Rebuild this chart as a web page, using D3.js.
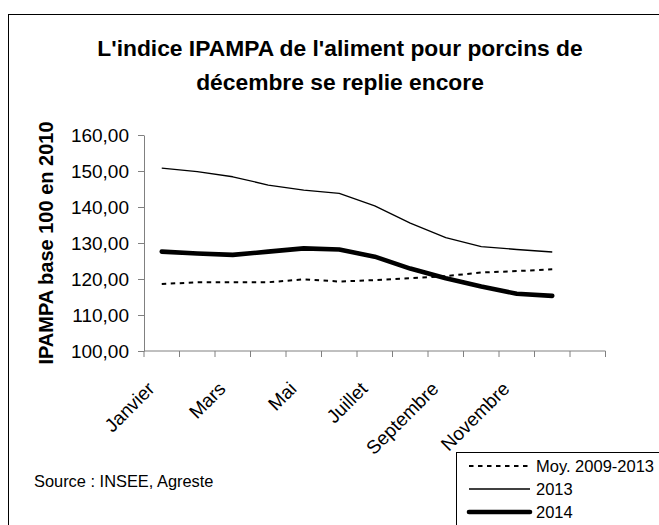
<!DOCTYPE html>
<html>
<head>
<meta charset="utf-8">
<script src="https://cdn.jsdelivr.net/npm/d3@7"></script>
<style>
  html, body { margin: 0; padding: 0; background: #fff; }
  svg { display: block; font-family: "Liberation Sans", Arial, sans-serif; }
</style>
</head>
<body>
<svg id="chart" width="659" height="525"></svg>
<script>
// ---- Data ----
const months = ["Janvier", "Février", "Mars", "Avril", "Mai", "Juin", "Juillet", "Août", "Septembre", "Octobre", "Novembre", "Décembre"];
const axisCategories = months.concat([" "]); // the axis carries one blank category at the end
const seriesNames = ["Moy. 2009-2013", "2013", "2014"];
const moy2009_2013 = [118.6, 119.1, 119.1, 119.1, 119.9, 119.3, 119.7, 120.2, 120.8, 121.8, 122.2, 122.7];
const values2013   = [150.8, 149.8, 148.4, 146.1, 144.7, 143.8, 140.3, 135.5, 131.5, 129.0, 128.2, 127.5];
const values2014   = [127.6, 127.1, 126.7, 127.6, 128.5, 128.2, 126.2, 122.9, 120.2, 117.9, 115.9, 115.3];
const yTicks = [100, 110, 120, 130, 140, 150, 160];
const titleLines = ["L'indice IPAMPA de l'aliment pour porcins de", "décembre se replie encore"];
const yTitle = "IPAMPA base 100 en 2010";
const sourceText = "Source : INSEE, Agreste";

const series = [
  { name: seriesNames[0], values: moy2009_2013, width: 2, dash: "4.5,4.5", cap: "butt" },
  { name: seriesNames[1], values: values2013, width: 1.3, dash: null, cap: "butt" },
  { name: seriesNames[2], values: values2014, width: 4.6, dash: null, cap: "round" }
];

const svg = d3.select("#chart");
const locale = d3.formatLocale({ decimal: ",", thousands: " ", grouping: [3], currency: ["", " €"] });
const fmt = locale.format(".2f");

// outer frame (runs off the right and bottom edges)
svg.append("rect").attr("x", 8.5).attr("y", 14.5).attr("width", 700).attr("height", 600)
  .attr("fill", "#fff").attr("stroke", "#000").attr("stroke-width", 1);

// title
svg.append("g").selectAll("text").data(titleLines).join("text")
  .attr("x", 340).attr("y", (d, i) => 56 + i * 34)
  .attr("text-anchor", "middle").attr("font-weight", "bold").attr("font-size", 22.8)
  .attr("fill", "#000").text(d => d);

// scales
const x = d3.scaleBand().domain(axisCategories).range([144, 605.5]).padding(0);
const y = d3.scaleLinear().domain([100, 160]).range([351, 135]);
const cx = d => x(d) + x.bandwidth() / 2;

// y axis
const yAxis = svg.append("g").attr("transform", "translate(144,0)")
  .call(d3.axisLeft(y).tickValues(yTicks).tickFormat(fmt).tickSize(6).tickPadding(9).tickSizeOuter(0));
yAxis.select(".domain").attr("stroke", "#808080");
yAxis.selectAll(".tick line").attr("stroke", "#808080");
yAxis.selectAll(".tick text").attr("font-size", 19).attr("fill", "#000")
  .attr("font-family", "Liberation Sans, Arial, sans-serif");

// x axis: ticks between categories
const xAxisG = svg.append("g").attr("transform", "translate(0,351)");
xAxisG.append("line").attr("x1", 144).attr("x2", 605.5).attr("y1", 0).attr("y2", 0).attr("stroke", "#808080");
const tickPos = axisCategories.map(c => x(c)).concat([x(axisCategories[axisCategories.length - 1]) + x.bandwidth()]);
xAxisG.selectAll("line.t").data(tickPos).join("line").attr("class", "t")
  .attr("x1", d => d).attr("x2", d => d).attr("y1", 0).attr("y2", 6).attr("stroke", "#808080");

// x labels, every other month, rotated
const shown = months.filter((m, i) => i % 2 === 0);
svg.append("g").selectAll("text").data(shown).join("text")
  .attr("transform", d => `translate(${cx(d) - 6},390) rotate(-45)`)
  .attr("text-anchor", "end").attr("font-size", 19).attr("fill", "#000").text(d => d);

// y axis title
svg.append("text").attr("transform", "translate(53,243) rotate(-90)")
  .attr("text-anchor", "middle").attr("font-weight", "bold").attr("font-size", 20)
  .attr("fill", "#000").text(yTitle);

// lines
const line = d3.line().x((d, i) => cx(months[i])).y(d => y(d));
svg.append("g").selectAll("path").data(series).join("path")
  .attr("d", s => line(s.values)).attr("fill", "none").attr("stroke", "#000")
  .attr("stroke-width", s => s.width).attr("stroke-dasharray", s => s.dash)
  .attr("stroke-linecap", s => s.cap).attr("stroke-linejoin", "round");

// source
svg.append("text").attr("x", 34).attr("y", 487).attr("font-size", 16.4).attr("fill", "#000").text(sourceText);

// legend
const lg = svg.append("g");
lg.append("rect").attr("x", 456.5).attr("y", 452.5).attr("width", 300).attr("height", 120)
  .attr("fill", "#fff").attr("stroke", "#000").attr("stroke-width", 1);
const rows = lg.selectAll("g.row").data(series).join("g").attr("class", "row")
  .attr("transform", (d, i) => `translate(0,${466 + i * 23})`);
rows.append("line").attr("x1", 469).attr("x2", 530).attr("y1", 0).attr("y2", 0)
  .attr("stroke", "#000").attr("stroke-width", s => s.width).attr("stroke-dasharray", s => s.dash)
  .attr("stroke-linecap", s => s.cap);
rows.append("text").attr("x", 536).attr("y", 0).attr("dy", "0.36em").attr("font-size", 16.5)
  .attr("fill", "#000").text(s => s.name);
</script>
</body>
</html>
